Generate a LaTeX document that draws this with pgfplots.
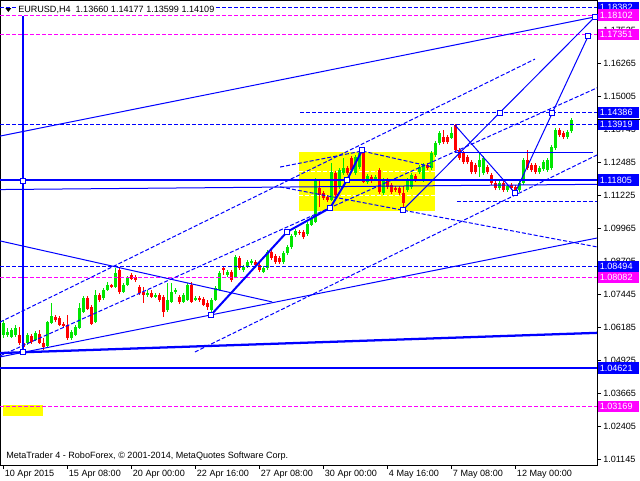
\documentclass[border=0pt]{standalone}
\usepackage{fontspec}
\setmainfont{Liberation Sans}
\usepackage{pgfplots}
\usepackage{pgfplotstable}
\pgfplotsset{compat=1.18}

\definecolor{mtblue}{RGB}{0,0,255}
\definecolor{mtmag}{RGB}{255,0,255}
\definecolor{bull}{RGB}{0,230,0}
\definecolor{bear}{RGB}{255,0,0}
\definecolor{mtyel}{RGB}{255,255,0}
\tikzset{
  mtdash/.style={dash pattern=on 3pt off 1.5pt},
  thin1/.style={mtblue, line width=0.75pt},
  thick1/.style={mtblue, line width=1.7pt},
}
\newcommand{\mtfont}{\fontsize{6.8}{8}\selectfont}

% bar index, body low, body high, low, high
\pgfplotstableread{
i bl bh l h
0 1.0589 1.0635 1.0577 1.0646
1 1.0589 1.0600 1.0581 1.0616
2 1.0581 1.0608 1.0577 1.0616
3 1.0589 1.0616 1.0581 1.0627
6 1.0558 1.0589 1.0551 1.0596
8 1.0570 1.0596 1.0566 1.0604
11 1.0547 1.0638 1.0543 1.0642
12 1.0635 1.0661 1.0631 1.0711
17 1.0577 1.0600 1.0570 1.0608
18 1.0589 1.0619 1.0585 1.0627
19 1.0616 1.0692 1.0612 1.0711
20 1.0677 1.0730 1.0673 1.0738
23 1.0638 1.0741 1.0635 1.0761
25 1.0730 1.0761 1.0722 1.0768
26 1.0761 1.0780 1.0757 1.0791
28 1.0772 1.0825 1.0768 1.0845
30 1.0753 1.0780 1.0749 1.0787
31 1.0780 1.0806 1.0776 1.0814
36 1.0741 1.0749 1.0734 1.0761
38 1.0734 1.0741 1.0730 1.0749
41 1.0684 1.0722 1.0677 1.0787
42 1.0715 1.0753 1.0711 1.0787
43 1.0753 1.0761 1.0745 1.0768
45 1.0715 1.0741 1.0711 1.0749
46 1.0722 1.0780 1.0719 1.0787
48 1.0722 1.0730 1.0719 1.0738
52 1.0684 1.0722 1.0661 1.0730
53 1.0722 1.0768 1.0719 1.0776
54 1.0761 1.0825 1.0757 1.0833
56 1.0818 1.0829 1.0810 1.0837
58 1.0810 1.0887 1.0806 1.0894
60 1.0837 1.0848 1.0829 1.0856
61 1.0848 1.0867 1.0845 1.0875
62 1.0864 1.0871 1.0856 1.0879
65 1.0829 1.0845 1.0825 1.0852
66 1.0845 1.0906 1.0837 1.0913
70 1.0867 1.0902 1.0860 1.0909
71 1.0902 1.0925 1.0894 1.0932
72 1.0925 1.0967 1.0917 1.0974
73 1.0971 1.0986 1.0963 1.0993
76 1.0974 1.1013 1.0967 1.1020
77 1.1009 1.1035 1.1005 1.1043
78 1.1020 1.1180 1.1016 1.1188
82 1.1104 1.1211 1.1100 1.1245
84 1.1154 1.1219 1.1146 1.1226
85 1.1207 1.1226 1.1200 1.1264
88 1.1207 1.1268 1.1200 1.1276
89 1.1230 1.1284 1.1223 1.1291
91 1.1173 1.1196 1.1165 1.1203
93 1.1184 1.1192 1.1177 1.1200
95 1.1131 1.1180 1.1123 1.1188
101 1.1142 1.1180 1.1135 1.1188
102 1.1154 1.1200 1.1146 1.1207
104 1.1211 1.1230 1.1203 1.1238
105 1.1180 1.1238 1.1173 1.1245
107 1.1226 1.1284 1.1219 1.1291
108 1.1276 1.1322 1.1268 1.1329
109 1.1322 1.1360 1.1314 1.1367
112 1.1341 1.1360 1.1337 1.1383
119 1.1230 1.1257 1.1192 1.1287
120 1.1207 1.1264 1.1200 1.1272
124 1.1150 1.1169 1.1142 1.1177
126 1.1142 1.1158 1.1135 1.1165
129 1.1142 1.1169 1.1135 1.1177
130 1.1169 1.1257 1.1161 1.1264
134 1.1211 1.1226 1.1203 1.1234
135 1.1222 1.1249 1.1215 1.1257
136 1.1219 1.1257 1.1211 1.1264
137 1.1226 1.1306 1.1219 1.1314
138 1.1303 1.1371 1.1295 1.1379
141 1.1345 1.1364 1.1337 1.1371
142 1.1366 1.1411 1.1360 1.1418
}\bulltab

\pgfplotstableread{
i bl bh l h
4 1.0558 1.0589 1.0551 1.0619
5 1.0543 1.0558 1.0539 1.0577
7 1.0562 1.0585 1.0555 1.0593
9 1.0558 1.0593 1.0555 1.0608
10 1.0543 1.0558 1.0532 1.0577
13 1.0646 1.0658 1.0638 1.0665
14 1.0627 1.0654 1.0623 1.0661
15 1.0623 1.0631 1.0619 1.0638
16 1.0577 1.0627 1.0570 1.0665
21 1.0688 1.0730 1.0684 1.0738
22 1.0631 1.0696 1.0627 1.0703
24 1.0722 1.0741 1.0715 1.0749
27 1.0772 1.0780 1.0768 1.0783
29 1.0753 1.0837 1.0745 1.0845
32 1.0803 1.0818 1.0799 1.0825
33 1.0799 1.0810 1.0791 1.0818
34 1.0749 1.0772 1.0741 1.0780
35 1.0741 1.0753 1.0711 1.0772
37 1.0734 1.0749 1.0730 1.0761
39 1.0722 1.0741 1.0715 1.0749
40 1.0677 1.0734 1.0658 1.0741
44 1.0715 1.0734 1.0707 1.0741
47 1.0715 1.0780 1.0711 1.0791
49 1.0722 1.0730 1.0715 1.0738
50 1.0703 1.0726 1.0699 1.0734
51 1.0696 1.0711 1.0684 1.0722
55 1.0837 1.0845 1.0818 1.0848
57 1.0799 1.0829 1.0791 1.0837
59 1.0845 1.0883 1.0837 1.0890
63 1.0856 1.0867 1.0848 1.0875
64 1.0837 1.0856 1.0829 1.0864
67 1.0883 1.0906 1.0875 1.0913
68 1.0867 1.0890 1.0860 1.0898
69 1.0867 1.0883 1.0860 1.0890
74 1.0978 1.0982 1.0971 1.0990
75 1.0963 1.0982 1.0955 1.0990
79 1.1123 1.1150 1.1077 1.1180
80 1.1112 1.1131 1.1104 1.1138
81 1.1104 1.1116 1.1097 1.1123
83 1.1123 1.1207 1.1116 1.1215
86 1.1207 1.1226 1.1200 1.1234
87 1.1219 1.1264 1.1211 1.1272
90 1.1173 1.1287 1.1169 1.1295
92 1.1177 1.1192 1.1169 1.1200
94 1.1135 1.1219 1.1127 1.1226
96 1.1154 1.1180 1.1146 1.1188
97 1.1135 1.1161 1.1127 1.1169
98 1.1142 1.1150 1.1135 1.1158
99 1.1131 1.1150 1.1123 1.1158
100 1.1093 1.1131 1.1077 1.1158
103 1.1180 1.1196 1.1173 1.1203
106 1.1226 1.1238 1.1219 1.1245
110 1.1326 1.1345 1.1318 1.1371
111 1.1326 1.1345 1.1318 1.1352
113 1.1295 1.1390 1.1287 1.1394
114 1.1264 1.1295 1.1257 1.1303
115 1.1249 1.1284 1.1241 1.1291
116 1.1249 1.1268 1.1241 1.1276
117 1.1211 1.1249 1.1203 1.1257
118 1.1211 1.1238 1.1203 1.1245
121 1.1211 1.1230 1.1203 1.1238
122 1.1169 1.1200 1.1161 1.1207
123 1.1150 1.1169 1.1142 1.1177
125 1.1142 1.1169 1.1135 1.1177
127 1.1150 1.1161 1.1142 1.1169
128 1.1142 1.1154 1.1131 1.1161
131 1.1226 1.1257 1.1219 1.1295
132 1.1219 1.1238 1.1211 1.1245
133 1.1211 1.1238 1.1203 1.1245
139 1.1352 1.1371 1.1345 1.1379
140 1.1345 1.1360 1.1337 1.1367
}\beartab

\begin{document}
\begin{tikzpicture}
\useasboundingbox (0,0) rectangle (480pt,360pt);
\begin{axis}[
  at={(0pt,11.25pt)}, anchor=south west,
  scale only axis, width=447.75pt, height=348.75pt,
  xmin=-0.825, xmax=148.4, ymin=1.00926, ymax=1.18675,
  axis line style={black, line width=0.7pt},
  xtick={0,16,32,48,64,80,96,112,128},
  xticklabels={10 Apr 2015,15 Apr 08:00,20 Apr 00:00,22 Apr 16:00,27 Apr 08:00,30 Apr 00:00,4 May 16:00,7 May 08:00,12 May 00:00},
  ytick={1.01145,1.02405,1.03665,1.04925,1.06185,1.07445,1.08705,1.09965,1.11225,1.12485,1.13745,1.15005,1.16265,1.17525},
  yticklabels={1.01145,1.02405,1.03665,1.04925,1.06185,1.07445,1.08705,1.09965,1.11225,1.12485,1.13745,1.15005,1.16265,1.17525},
  xtick pos=bottom, ytick pos=right, yticklabel pos=right,
  tick align=outside, major tick length=3pt,
  tick style={black, line width=0.6pt},
  xticklabel style={font=\mtfont, anchor=north west, yshift=2.5pt, inner xsep=1pt},
  yticklabel style={font=\mtfont, anchor=west, inner xsep=1.5pt},
]
% yellow rectangles
\addplot[draw=none, fill=mtyel] coordinates {(73.9,1.1062) (107.9,1.1062) (107.9,1.1287) (73.9,1.1287)} --cycle;
\addplot[draw=none, fill=mtyel] coordinates {(-0.2,1.0280) (9.9,1.0280) (9.9,1.0322) (-0.2,1.0322)} --cycle;
\addplot[white, line width=0.75pt, mtdash] coordinates {(73.9,1.1211) (107.9,1.1211)};
\addplot[white, line width=0.75pt, mtdash] coordinates {(73.9,1.1123) (107.9,1.1123)};

% candles
\addplot[bull, line width=0.75pt, quiver={u=0, v=\thisrow{h}-\thisrow{l}}] table[x=i, y=l] {\bulltab};
\addplot[bull, line width=2pt, quiver={u=0, v=\thisrow{bh}-\thisrow{bl}}] table[x=i, y=bl] {\bulltab};
\addplot[bear, line width=0.75pt, quiver={u=0, v=\thisrow{h}-\thisrow{l}}] table[x=i, y=l] {\beartab};
\addplot[bear, line width=2pt, quiver={u=0, v=\thisrow{bh}-\thisrow{bl}}] table[x=i, y=bl] {\beartab};

% horizontal levels
\addplot[thin1, mtdash] coordinates {(-0.825,1.18382) (148.4,1.18382)};
\addplot[mtmag, line width=0.75pt, mtdash] coordinates {(-0.825,1.18102) (148.4,1.18102)};
\addplot[mtmag, line width=0.75pt, mtdash] coordinates {(-0.825,1.17351) (148.4,1.17351)};
\addplot[thin1, mtdash] coordinates {(74.2,1.14386) (148.4,1.14386)};
\addplot[thin1, mtdash] coordinates {(-0.825,1.13919) (148.4,1.13919)};
\addplot[thin1, mtdash] coordinates {(113.4,1.1100) (148.4,1.1100)};
\addplot[thin1, mtdash] coordinates {(-0.825,1.08494) (148.4,1.08494)};
\addplot[mtmag, line width=0.75pt, mtdash] coordinates {(-0.825,1.08082) (148.4,1.08082)};
\addplot[mtmag, line width=0.75pt, mtdash] coordinates {(-0.825,1.03169) (148.4,1.03169)};
\addplot[thick1] coordinates {(-0.825,1.11805) (148.4,1.11805)};
\addplot[thick1] coordinates {(-0.825,1.04621) (148.4,1.04621)};
\addplot[thin1] coordinates {(-0.825,1.1144) (148.4,1.1164)};
\addplot[thin1] coordinates {(112.9,1.1284) (147.5,1.1284)};

% trend lines
\addplot[thick1] coordinates {(-0.825,1.0520) (148.4,1.0597)};
\addplot[thin1] coordinates {(-0.825,1.0505) (148.4,1.0959)};
\addplot[thin1] coordinates {(-0.825,1.0948) (67.2,1.0715)};
\addplot[thin1] coordinates {(-0.825,1.1348) (147.9,1.1803)};
\addplot[thick1] coordinates {(4.85,1.1806) (4.85,1.0512)};
\addplot[mtblue, line width=1.5pt] coordinates {(51.9,1.0665) (70.9,1.0982) (81.7,1.1074) (85.9,1.1180) (89.7,1.1295)};
\addplot[thin1] coordinates {(99.9,1.1066) (147.9,1.1803)};
\addplot[thin1] coordinates {(112.9,1.1390) (127.9,1.1131)};
\addplot[thin1] coordinates {(127.9,1.1131) (146.2,1.1730)};

% dashed channel lines
\addplot[thin1, mtdash] coordinates {(-0.825,1.0638) (132.9,1.1642)};
\addplot[thin1, mtdash] coordinates {(-0.825,1.0509) (148.4,1.1532)};
\addplot[thin1, mtdash] coordinates {(47.9,1.0524) (148.4,1.1276)};
\addplot[thin1, mtdash] coordinates {(69.2,1.1154) (148.4,1.0925)};
\addplot[thin1, mtdash] coordinates {(69.2,1.1230) (89.7,1.1291) (107.4,1.1230)};

% wave points
\addplot[only marks, mark=square*, mark size=2pt, mark options={fill=white, draw=mtblue, line width=0.75pt}] coordinates {
(4.85,1.1177) (4.85,1.0524) (51.9,1.0665) (70.9,1.0982) (81.7,1.1074) (85.9,1.1180) (89.7,1.1295)
(99.9,1.1066) (124.2,1.1436) (137.2,1.1436) (146.2,1.1730) (147.9,1.1803) (127.9,1.1131)};

\coordinate (r1) at (axis cs:148.4,1.18382);
\coordinate (r2) at (axis cs:148.4,1.18102);
\coordinate (r3) at (axis cs:148.4,1.17351);
\coordinate (r4) at (axis cs:148.4,1.14386);
\coordinate (r5) at (axis cs:148.4,1.13919);
\coordinate (r6) at (axis cs:148.4,1.11805);
\coordinate (r7) at (axis cs:148.4,1.08494);
\coordinate (r8) at (axis cs:148.4,1.08082);
\coordinate (r9) at (axis cs:148.4,1.04621);
\coordinate (r10) at (axis cs:148.4,1.03169);
\coordinate (bid) at (axis cs:148.4,1.14109);
\end{axis}

\tikzset{lab/.style={anchor=west, text=white, font=\mtfont, inner xsep=1.5pt, inner ysep=0pt, minimum height=8.6pt, text width=28pt, xshift=0.4pt}}
\node[lab, fill=mtblue] at (r1) {1.18382};
\node[lab, fill=mtmag] at (r2) {1.18102};
\node[lab, fill=mtmag] at (r3) {1.17351};
\node[lab, fill=mtblue] at (r4) {1.14386};
\node[lab, fill=mtblue] at (r5) {1.13919};
\node[lab, fill=mtblue] at (r6) {1.11805};
\node[lab, fill=mtblue] at (r7) {1.08494};
\node[lab, fill=mtmag] at (r8) {1.08082};
\node[lab, fill=mtblue] at (r9) {1.04621};
\node[lab, fill=mtmag] at (r10) {1.03169};
\draw[black, line width=0.6pt] (bid) -- ++(32pt,0);

\node[anchor=west, fill=white, font=\mtfont, inner sep=1pt] at (12.5pt,352.5pt) {EURUSD,H4\ \ 1.13660 1.14177 1.13599 1.14109};
\fill[black] (4pt,354pt) -- (8.5pt,354pt) -- (6.25pt,351pt) -- cycle;
\node[anchor=west, font=\mtfont, inner sep=1pt] at (3.5pt,18pt) {MetaTrader 4 - RoboForex, © 2001-2014, MetaQuotes Software Corp.};
\end{tikzpicture}
\end{document}
